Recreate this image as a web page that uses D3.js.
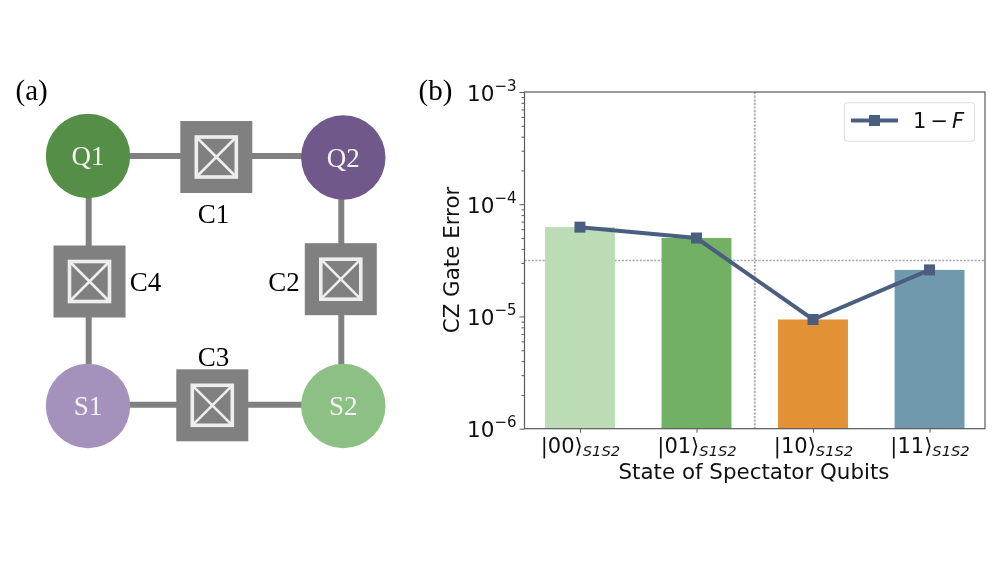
<!DOCTYPE html>
<html><head><meta charset="utf-8">
<script src="https://cdnjs.cloudflare.com/ajax/libs/d3/7.8.5/d3.min.js"></script>
<style>html,body{margin:0;padding:0;background:#fff}svg{display:block;filter:blur(0.35px)}</style>
</head><body><svg id="c" width="997" height="561"></svg>
<script>
// ---- chart data
const stateLabels = ["00", "01", "10", "11"];
const errorValues = [6.25e-5, 5.0e-5, 9.4e-6, 2.6e-5];
const barColors = ["#bbdcb5", "#72b064", "#e29135", "#7099ae"];
const majorTicks = [1e-3, 1e-4, 1e-5, 1e-6];
const tickExponents = ["−3", "−4", "−5", "−6"];
const referenceError = 3.15e-5;
const referenceState = 1.5;
const yTitle = "CZ Gate Error";
const xTitle = "State of Spectator Qubits";
// ---- circuit data
const qubitNames = ["Q1", "Q2", "S1", "S2"];
const qubitColors = ["#558f47", "#70588b", "#a492bc", "#8dc085"];
const qubitCx = [88, 343.3, 88, 343.3];
const qubitCy = [156, 157.5, 406, 406];
const couplerNames = ["C1", "C2", "C3", "C4"];
const couplerX = [216.3, 340.8, 212.3, 89.5];
const couplerY = [157, 279.2, 405.3, 281.5];
const couplerLabelX = [213.5, 284, 213.5, 145.5];
const couplerLabelY = [223.3, 291, 366, 291];
const wires = [[88,156,343,156],[88.7,156,88.7,406],[341.3,157,341.3,406],[88,404.7,343,404.7]];

const svg = d3.select("#c");
const serif = "'Liberation Serif', serif", sans = "'DejaVu Sans', sans-serif";

// ---- panel (a)
const gA = svg.append("g");
gA.append("text").attr("x", 15.5).attr("y", 100).attr("font-family", serif).attr("font-size", 29).text("(a)");
gA.selectAll("line.w").data(wires).join("line").attr("class","w")
  .attr("x1", d=>d[0]).attr("y1", d=>d[1]).attr("x2", d=>d[2]).attr("y2", d=>d[3])
  .attr("stroke", "#808080").attr("stroke-width", 6);
gA.selectAll("circle").data(qubitNames).join("circle")
  .attr("cx", (d,i)=>qubitCx[i]).attr("cy", (d,i)=>qubitCy[i]).attr("r", 42.2)
  .attr("fill", (d,i)=>qubitColors[i]);
gA.selectAll("text.q").data(qubitNames).join("text").attr("class","q")
  .attr("x", (d,i)=>qubitCx[i]).attr("y", (d,i)=>qubitCy[i]+9)
  .attr("text-anchor","middle").attr("font-family", serif).attr("font-size", 27).attr("fill", "#f4f4f4").text(d=>d);
const cp = gA.selectAll("g.cp").data(couplerNames).join("g").attr("class","cp")
  .attr("transform", (d,i)=>`translate(${couplerX[i]},${couplerY[i]})`);
cp.append("rect").attr("x",-36).attr("y",-36).attr("width",72).attr("height",72).attr("fill","#808080");
cp.append("rect").attr("x",-20).attr("y",-20).attr("width",40).attr("height",40).attr("fill","none").attr("stroke","#eeeeee").attr("stroke-width",3.6);
cp.append("path").attr("d","M-20,-20L20,20M20,-20L-20,20").attr("stroke","#eeeeee").attr("stroke-width",2.6);
gA.selectAll("text.c").data(couplerNames).join("text").attr("class","c")
  .attr("x", (d,i)=>couplerLabelX[i]).attr("y", (d,i)=>couplerLabelY[i])
  .attr("text-anchor","middle").attr("font-family", serif).attr("font-size", 27).attr("fill", "#000").text(d=>d);

// ---- panel (b)
const L = 524.5, R = 985, T = 92, B = 428.7;
const x = d3.scaleLinear().domain([-0.476, 3.476]).range([L, R]);
const y = d3.scaleLog().domain([1e-6, 1e-3]).range([B, T]);
const barW = 0.6;
svg.append("text").attr("x", 418.5).attr("y", 100).attr("font-family", serif).attr("font-size", 29).text("(b)");

const plot = svg.append("g");
plot.append("line").attr("x1", L).attr("x2", R).attr("y1", y(referenceError)).attr("y2", y(referenceError))
  .attr("stroke","#aaa").attr("stroke-width",1.4).attr("stroke-dasharray","2.2,1.4");
plot.append("line").attr("x1", x(referenceState)).attr("x2", x(referenceState)).attr("y1", T).attr("y2", B)
  .attr("stroke","#aaa").attr("stroke-width",1.8).attr("stroke-dasharray","2.2,1.4");
plot.selectAll("rect").data(errorValues).join("rect")
  .attr("x",(d,i)=>x(i-barW/2)).attr("width",x(barW)-x(0))
  .attr("y",d=>y(d)).attr("height",d=>B-y(d)).attr("fill",(d,i)=>barColors[i]);
const lineGen = d3.line().x((d,i)=>x(i)).y(d=>y(d));
plot.append("path").datum(errorValues).attr("d",lineGen).attr("fill","none").attr("stroke","#4a5f80").attr("stroke-width",4);
plot.selectAll("rect.m").data(errorValues).join("rect").attr("class","m")
  .attr("x",(d,i)=>x(i)-5.5).attr("y",d=>y(d)-5.5).attr("width",11).attr("height",11).attr("fill","#4a5f80");

// frame
svg.append("rect").attr("x",L).attr("y",T).attr("width",R-L).attr("height",B-T)
  .attr("fill","none").attr("stroke","#5a5a5a").attr("stroke-width",1.2);

// y axis
const minor = [];
majorTicks.slice(1).forEach(m => { for (let k=2;k<=9;k++) minor.push(m*k); });
const yMinor = svg.append("g").attr("transform",`translate(${L},0)`)
  .call(d3.axisLeft(y).tickValues(minor).tickSize(3).tickFormat(""));
const yMajor = svg.append("g").attr("transform",`translate(${L},0)`)
  .call(d3.axisLeft(y).tickValues(majorTicks).tickSize(5).tickFormat(""));
[yMinor,yMajor].forEach(g=>{g.select(".domain").remove();g.selectAll("line").attr("stroke","#5a5a5a").attr("stroke-width",1);});
yMajor.selectAll(".tick").append("text").each(function(d){
  const t = d3.select(this);
  t.attr("x",-8).attr("y",0).attr("fill","#111").attr("text-anchor","end").attr("font-family",sans).attr("font-size",21.5).attr("dy",8);
  t.append("tspan").text("10");
  t.append("tspan").attr("font-size",15).attr("dy",-10).text(tickExponents[majorTicks.indexOf(d)]);
});

// x axis
const xAxis = svg.append("g").attr("transform",`translate(0,${B})`)
  .call(d3.axisBottom(x).tickValues(d3.range(stateLabels.length)).tickSize(4).tickFormat(""));
xAxis.select(".domain").remove();
xAxis.selectAll("line").attr("stroke","#5a5a5a").attr("stroke-width",1);
xAxis.selectAll(".tick").append("text").each(function(d){
  const t = d3.select(this);
  t.attr("y",0).attr("dy",24).attr("x",0).attr("fill","#111").attr("text-anchor","middle").attr("font-family",sans).attr("font-size",21);
  t.append("tspan").text("|"+stateLabels[d]+"⟩");
  t.append("tspan").attr("font-size",14.7).attr("font-style","italic").attr("dy",3).text("S1S2");
});

// titles
svg.append("text").attr("transform",`translate(459.3,${T+168}) rotate(-90)`)
  .attr("text-anchor","middle").attr("font-family",sans).attr("font-size",21.4).attr("fill","#111").text(yTitle);
svg.append("text").attr("x",754).attr("y",478.5).attr("text-anchor","middle")
  .attr("font-family",sans).attr("font-size",21.4).attr("fill","#111").text(xTitle);

// legend
const lg = svg.append("g");
lg.append("rect").attr("x",844.5).attr("y",102.8).attr("width",130).attr("height",38.5).attr("rx",3)
  .attr("fill","#fff").attr("stroke","#e0e0e0").attr("stroke-width",1.1);
lg.append("line").attr("x1",851).attr("x2",898).attr("y1",120.5).attr("y2",120.5).attr("stroke","#4a5f80").attr("stroke-width",4);
lg.append("rect").attr("x",869).attr("y",115).attr("width",11).attr("height",11).attr("fill","#4a5f80");
const lt = lg.append("text").attr("x",913).attr("y",128).attr("font-family",sans).attr("font-size",21).attr("fill","#111");
lt.append("tspan").text("1");
lt.append("tspan").attr("dx",4).text("−");
lt.append("tspan").attr("dx",4).attr("font-style","italic").text("F");
</script></body></html>
